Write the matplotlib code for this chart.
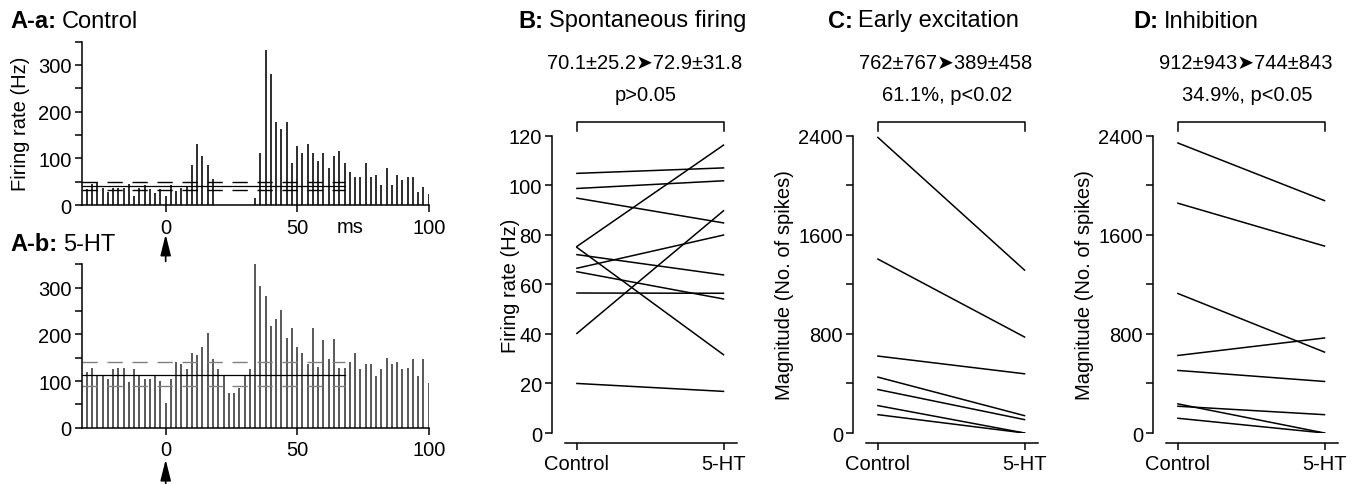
import numpy as np
import matplotlib.pyplot as plt

plt.rcParams['font.family'] = ['Liberation Sans', 'DejaVu Sans']

# PSTH bins (ms) and firing rates (Hz)
bin_ms = np.arange(-30, 101, 2)
rate_control = [34, 45, 50, 37, 27, 37, 37, 37, 45, 19, 37, 43, 34, 25, 34,
                19, 43, 30, 37, 41, 85, 131, 105, 85, 55, 0, 0, 0, 0, 0, 0, 0,
                14, 111, 331, 280, 178, 163, 178, 91, 126, 111, 131, 111, 95,
                111, 80, 106, 115, 91, 70, 59, 59, 91, 59, 65, 43, 80, 43, 65,
                54, 59, 59, 28, 39, 24]
rate_5ht = [120, 129, 113, 113, 104, 125, 129, 129, 99, 125, 110, 105, 105,
            110, 100, 54, 104, 140, 136, 125, 161, 156, 172, 202, 147, 125,
            111, 75, 75, 85, 111, 125, 350, 304, 283, 217, 233, 253, 192, 213,
            172, 161, 136, 213, 130, 188, 147, 191, 129, 129, 140, 161, 125,
            136, 136, 111, 125, 150, 136, 140, 125, 129, 147, 111, 147, 95]
# mean and mean +/- SD of baseline
lines_control = [41, 32, 49]
lines_5ht = [114, 89, 141]

conditions = ['Control', '5-HT']
spont_control = [104.8, 98.7, 94.8, 75.3, 74.9, 72.0, 66.5, 65.1, 56.5, 40.2, 20.0]
spont_5ht = [107.0, 101.8, 84.8, 116.2, 31.6, 63.8, 79.9, 54.1, 56.4, 89.7, 16.8]
early_control = [2386, 1404, 621, 451, 351, 221, 148]
early_5ht = [1315, 775, 478, 140, 108, 0, 0]
inhib_control = [2341, 1855, 1126, 626, 505, 235, 216, 119]
inhib_5ht = [1876, 1509, 653, 767, 416, 0, 148, 0]

W, H = 1360, 485
fig = plt.figure(figsize=(W / 100, H / 100), dpi=100)
TICK = 14.5
TITLE = 17


def add_ax(left, top, right, bottom):
    return fig.add_axes([left / W, 1 - bottom / H, (right - left) / W, (bottom - top) / H])


def title(ax, x, y, bold, rest):
    t = fig.text(x / W, 1 - y / H, bold, fontsize=TITLE, fontweight='bold',
                 ha='left', va='center')
    ax.annotate(rest, xy=(1, 0), xycoords=t, xytext=(4, 0),
                textcoords='offset points', ha='left', va='bottom', fontsize=TITLE)


def psth(ax, rates, lines, bar_color, dash_color):
    ax.vlines(bin_ms, 0, rates, color=bar_color, lw=1.15)
    ax.plot([-32, 68], [lines[0]] * 2, color='k', lw=0.9)
    for v in lines[1:]:
        ax.plot([-32, 68], [v, v], color=dash_color, lw=1.0, dashes=(11, 7))
    ax.set_xlim(-32, 100)
    ax.set_ylim(0, 350)
    ax.spines[['top', 'right']].set_visible(False)
    ax.spines[['left', 'bottom']].set_linewidth(1.1)
    ax.set_xticks([0, 50, 100])
    ax.set_yticks([0, 100, 200, 300])
    ax.set_yticks([50, 150, 250, 350], minor=True)
    ax.tick_params(which='both', length=5, width=1.1, labelsize=TICK, pad=2)
    ax.tick_params(axis='x', pad=4)
    ax.patch.set_visible(False)


def stim_arrow(ax, tip, tail):
    ax.annotate('', xy=(0, tip), xytext=(0, tail), xycoords=ax.get_xaxis_transform(),
                arrowprops=dict(arrowstyle='-|>,head_length=0.8,head_width=0.2',
                                color='k', lw=1.2, mutation_scale=16, shrinkA=0, shrinkB=0),
                annotation_clip=False)


ax_a = add_ax(81.5, 42.6, 428.7, 206)
psth(ax_a, rate_control, lines_control, 'k', 'k')
ax_a.text(70, -0.13, 'ms', transform=ax_a.get_xaxis_transform(), ha='center',
          va='center', fontsize=TICK)
ax_a.text(-0.177, 0.5, 'Firing rate (Hz)', transform=ax_a.transAxes, rotation=90,
          ha='center', va='center', fontsize=TICK)
stim_arrow(ax_a, -0.18, -0.345)
title(ax_a, 10, 21, 'A-a:', 'Control')

ax_b = add_ax(81.5, 265.4, 428.7, 428.7)
psth(ax_b, rate_5ht, lines_5ht, '#333333', '#808080')
stim_arrow(ax_b, -0.195, -0.4)
title(ax_b, 10, 245, 'A-b:', '5-HT')


def pair_panel(ax, before, after, ymax, major, minor, ylabel, txt1, txt2, ylab_x):
    for a, b in zip(before, after):
        ax.plot([0, 1], [a, b], color='k', lw=1.1)
    ax.set_xlim(-0.172, 1.09)
    ax.set_ylim(0, ymax)
    ax.spines[['top', 'right']].set_visible(False)
    ax.spines[['left', 'bottom']].set_linewidth(1.1)
    ax.spines['bottom'].set_position(('outward', 7))
    ax.spines['bottom'].set_bounds(-0.08, 1.09)
    ax.spines['left'].set_bounds(0, ymax)
    ax.set_xticks([0, 1])
    ax.set_xticklabels(conditions)
    ax.set_yticks(major)
    ax.set_yticks(minor, minor=True)
    ax.tick_params(which='both', length=5, width=1.1, labelsize=TICK, pad=2)
    ax.tick_params(axis='x', pad=3)
    ax.patch.set_visible(False)
    tr = ax.get_xaxis_transform()
    ax.plot([0, 0, 1, 1], [1.016, 1.046, 1.046, 1.016], transform=tr,
            clip_on=False, color='k', lw=1.1)
    ax.text(0.46, 1.248, txt1, transform=tr, ha='center', va='center', fontsize=14.5)
    ax.text(0.47, 1.140, txt2, transform=tr, ha='center', va='center', fontsize=14.5)
    ax.text(ylab_x, 0.5, ylabel, transform=ax.transAxes, rotation=90,
            ha='center', va='center', fontsize=TICK)


ax_sp = add_ax(551.7, 136.7, 736.7, 434)
pair_panel(ax_sp, spont_control, spont_5ht, 120, [0, 20, 40, 60, 80, 100, 120], [],
           'Firing rate (Hz)', '70.1±25.2➤72.9±31.8', 'p>0.05', -0.225)
title(ax_sp, 518, 21, 'B:', 'Spontaneous firing')

ax_ex = add_ax(852.7, 136.7, 1037.7, 434)
pair_panel(ax_ex, early_control, early_5ht, 2400, [0, 800, 1600, 2400],
           [400, 1200, 2000], 'Magnitude (No. of spikes)', '762±767➤389±458',
           '61.1%, p<0.02', -0.366)
title(ax_ex, 828, 21, 'C:', 'Early excitation')

ax_in = add_ax(1152.7, 136.7, 1337.7, 434)
pair_panel(ax_in, inhib_control, inhib_5ht, 2400, [0, 800, 1600, 2400],
           [400, 1200, 2000], 'Magnitude (No. of spikes)', '912±943➤744±843',
           '34.9%, p<0.05', -0.366)
title(ax_in, 1133, 21, 'D:', 'Inhibition')

fig.savefig('out.png', dpi=100)
